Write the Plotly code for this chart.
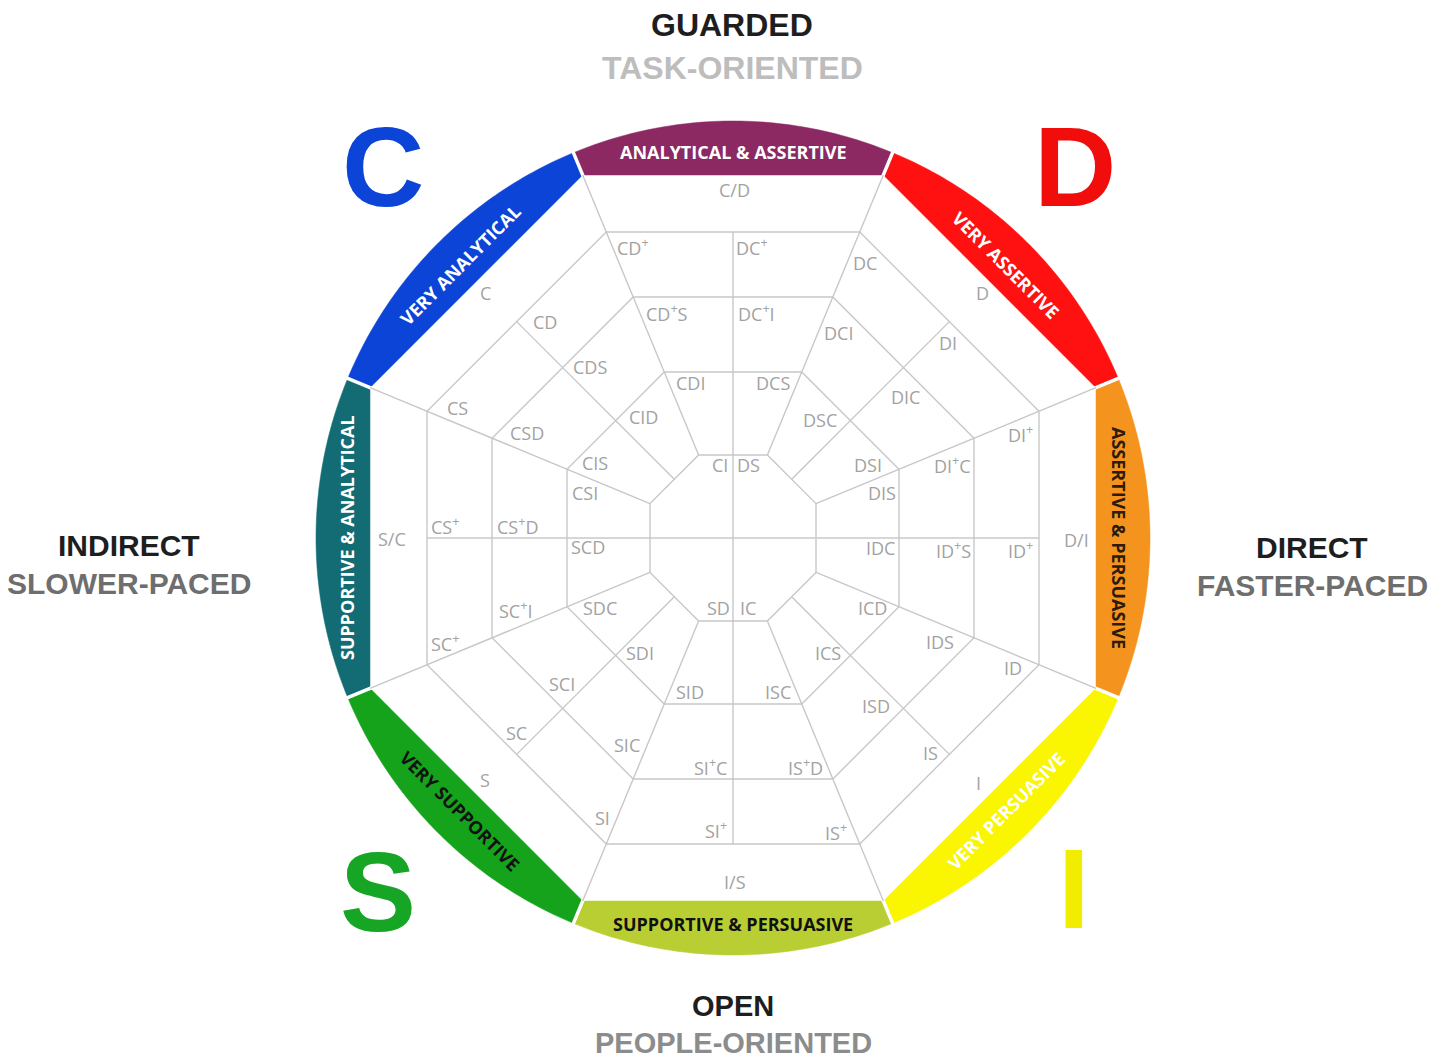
import numpy as np
import plotly.graph_objects as go

# ---------------- data ----------------
# wheel geometry (pixels, center at origin, y up)
R_CIRCLE = 417
APOTHEMS = [363, 306, 241, 166, 83]   # octagon rings, outer -> inner

BAND_NAMES = ["ANALYTICAL & ASSERTIVE", "VERY ASSERTIVE", "ASSERTIVE & PERSUASIVE",
              "VERY PERSUASIVE", "SUPPORTIVE & PERSUASIVE", "VERY SUPPORTIVE",
              "SUPPORTIVE & ANALYTICAL", "VERY ANALYTICAL"]
BAND_ANGLES = [90, 45, 0, -45, -90, -135, 180, 135]
BAND_COLORS = ["#8C2862", "#FF1111", "#F5931F", "#FAF500",
               "#B8CE33", "#15A31B", "#136C74", "#0B44D6"]
BAND_TEXT_COLORS = ["#FFFFFF", "#FFFFFF", "#2B1B08", "#FFFFFF",
                    "#111111", "#111111", "#FFFFFF", "#FFFFFF"]
BAND_TEXT_ROT = [0, 45, 90, -45, 0, 45, -90, -45]

CELL_LABELS = ["C/D", "CD<sup>+</sup>", "DC<sup>+</sup>", "DC", "D", "DI", "DCI",
               "CD<sup>+</sup>S", "DC<sup>+</sup>I", "CDI", "DCS", "C", "CD", "CDS", "CID",
               "CS", "CSD", "CIS", "CSI", "CI", "DS", "DSC", "DIC", "DSI", "DIS",
               "DI<sup>+</sup>C", "DI<sup>+</sup>", "S/C", "CS<sup>+</sup>", "CS<sup>+</sup>D",
               "SCD", "IDC", "ID<sup>+</sup>S", "ID<sup>+</sup>", "D/I", "SC<sup>+</sup>I",
               "SDC", "SD", "IC", "ICD", "SC<sup>+</sup>", "SDI", "ICS", "IDS", "ID",
               "SCI", "SID", "ISC", "ISD", "SC", "SIC", "SI<sup>+</sup>C", "IS<sup>+</sup>D",
               "IS", "S", "I", "SI", "SI<sup>+</sup>", "IS<sup>+</sup>", "I/S"]
CELL_X = [1, -100, 19, 132, 249, 215, 105, -66, 23, -43, 40, -248, -188, -143, -90,
          -276, -206, -138, -148, -13, 15, 87, 172, 135, 149, 219, 287, -341, -288, -216,
          -145, 147, 220, 287, 343, -218, -133, -15, 15, 139, -288, -93, 95, 207, 280,
          -171, -43, 45, 143, -217, -106, -23, 72, 197, -248, 245, -131, -17, 103, 2]
CELL_Y = [348, 291, 291, 275, 245, 195, 205, 225, 225, 155, 155, 245, 216, 171, 121,
          130, 105, 75, 45, 73, 73, 118, 141, 73, 45, 73, 104, -1, 12, 12,
          -9, -10, -12, -12, -2, -72, -70, -70, -70, -70, -105, -115, -115, -104, -130,
          -146, -154, -154, -168, -195, -207, -229, -229, -215, -242, -245, -280, -292, -294, -344]

BIG_LETTERS = ["C", "D", "S", "I"]
BIG_X = [-350, 342, -355, 341]
BIG_Y = [372, 372, -353, -350]
BIG_COLORS = ["#0B44D6", "#F20D0D", "#17A526", "#F2EC00"]

SIDE_TITLES = ["GUARDED", "INDIRECT", "DIRECT", "OPEN"]
SIDE_SUBTITLES = ["TASK-ORIENTED", "SLOWER-PACED", "FASTER-PACED", "PEOPLE-ORIENTED"]
SIDE_X = [-1, -604, 579, 0]
SIDE_Y = [513, -7, -9, -468]
SIDE_GAP = [43, 38, 38, 37]
SIDE_SIZES = [32, 30, 30, 29]
SUB_COLORS = ["#BDBDBD", "#6E6E6E", "#6E6E6E", "#8C8C8C"]

# ---------------- helpers ----------------
VC = np.cos(np.radians(22.5))


def pol(r, deg):
    a = np.radians(deg)
    return r * np.cos(a), r * np.sin(a)


def path_from(pts, close=True):
    s = "M " + " L ".join(f"{x:.2f},{y:.2f}" for x, y in pts)
    return s + (" Z" if close else "")


def octagon(apo):
    rv = apo / VC
    return [pol(rv, 22.5 + 45 * k) for k in range(8)]


shapes = []
GRID = dict(color="#C8C8C8", width=1.4)

# colored bands
for ang, col in zip(BAND_ANGLES, BAND_COLORS):
    arc = [pol(R_CIRCLE, a) for a in np.linspace(ang + 22.5, ang - 22.5, 60)]
    rv = APOTHEMS[0] / VC
    pts = arc + [pol(rv, ang - 22.5), pol(rv, ang + 22.5)]
    shapes.append(dict(type="path", path=path_from(pts), fillcolor=col,
                       line=dict(color=col, width=0.5), layer="below"))
# white separators between bands
for k in range(8):
    a = 22.5 + 45 * k
    p0 = pol(APOTHEMS[0] / VC - 4, a)
    p1 = pol(R_CIRCLE + 6, a)
    shapes.append(dict(type="line", x0=p0[0], y0=p0[1], x1=p1[0], y1=p1[1],
                       line=dict(color="#FFFFFF", width=3.5)))

# inner octagons
for apo in APOTHEMS[1:]:
    shapes.append(dict(type="path", path=path_from(octagon(apo)), line=GRID))
# vertex rays (full depth)
for k in range(8):
    a = 22.5 + 45 * k
    p0 = pol(APOTHEMS[-1] / VC, a)
    p1 = pol(APOTHEMS[0] / VC, a)
    shapes.append(dict(type="line", x0=p0[0], y0=p0[1], x1=p1[0], y1=p1[1], line=GRID))
# mid-side rays
for k in range(8):
    a = 45 * k
    r0 = 0 if k % 2 == 0 else APOTHEMS[-1]
    p0 = pol(r0, a)
    p1 = pol(APOTHEMS[1], a)
    shapes.append(dict(type="line", x0=p0[0], y0=p0[1], x1=p1[0], y1=p1[1], line=GRID))

annotations = []
# band captions
for name, ang, tc, rot in zip(BAND_NAMES, BAND_ANGLES, BAND_TEXT_COLORS, BAND_TEXT_ROT):
    x, y = pol(386, ang)
    annotations.append(dict(x=x, y=y, text=name, showarrow=False, textangle=rot,
                            xanchor="center", yanchor="middle",
                            font=dict(family="Open Sans", size=18, color=tc, weight="bold")))
# cell labels
for t, x, y in zip(CELL_LABELS, CELL_X, CELL_Y):
    annotations.append(dict(x=x, y=y, text=t, showarrow=False, xanchor="center",
                            yanchor="middle",
                            font=dict(family="Open Sans", size=18, color="#A2A2A2")))
# big letters
for t, x, y, c in zip(BIG_LETTERS, BIG_X, BIG_Y, BIG_COLORS):
    annotations.append(dict(x=x, y=y, text=t, showarrow=False, xanchor="center",
                            yanchor="middle",
                            font=dict(family="Liberation Sans", size=114, color=c,
                                      weight="bold")))
# side titles
for t, s, x, y, g, sz, sc in zip(SIDE_TITLES, SIDE_SUBTITLES, SIDE_X, SIDE_Y, SIDE_GAP,
                                 SIDE_SIZES, SUB_COLORS):
    annotations.append(dict(x=x, y=y, text=t, showarrow=False, xanchor="center",
                            yanchor="middle",
                            font=dict(family="Liberation Sans", size=sz, color="#1E1E1E",
                                      weight="bold")))
    annotations.append(dict(x=x, y=y - g, text=s, showarrow=False, xanchor="center",
                            yanchor="middle",
                            font=dict(family="Liberation Sans", size=sz, color=sc,
                                      weight="bold")))

fig = go.Figure()
fig.update_layout(
    width=1444, height=1059,
    margin=dict(l=0, r=0, t=0, b=0),
    paper_bgcolor="white", plot_bgcolor="white",
    xaxis=dict(range=[-725, 719], visible=False, fixedrange=True),
    yaxis=dict(range=[-529, 530], visible=False, fixedrange=True),
    shapes=shapes, annotations=annotations, showlegend=False,
)
fig.write_html("out.html")
